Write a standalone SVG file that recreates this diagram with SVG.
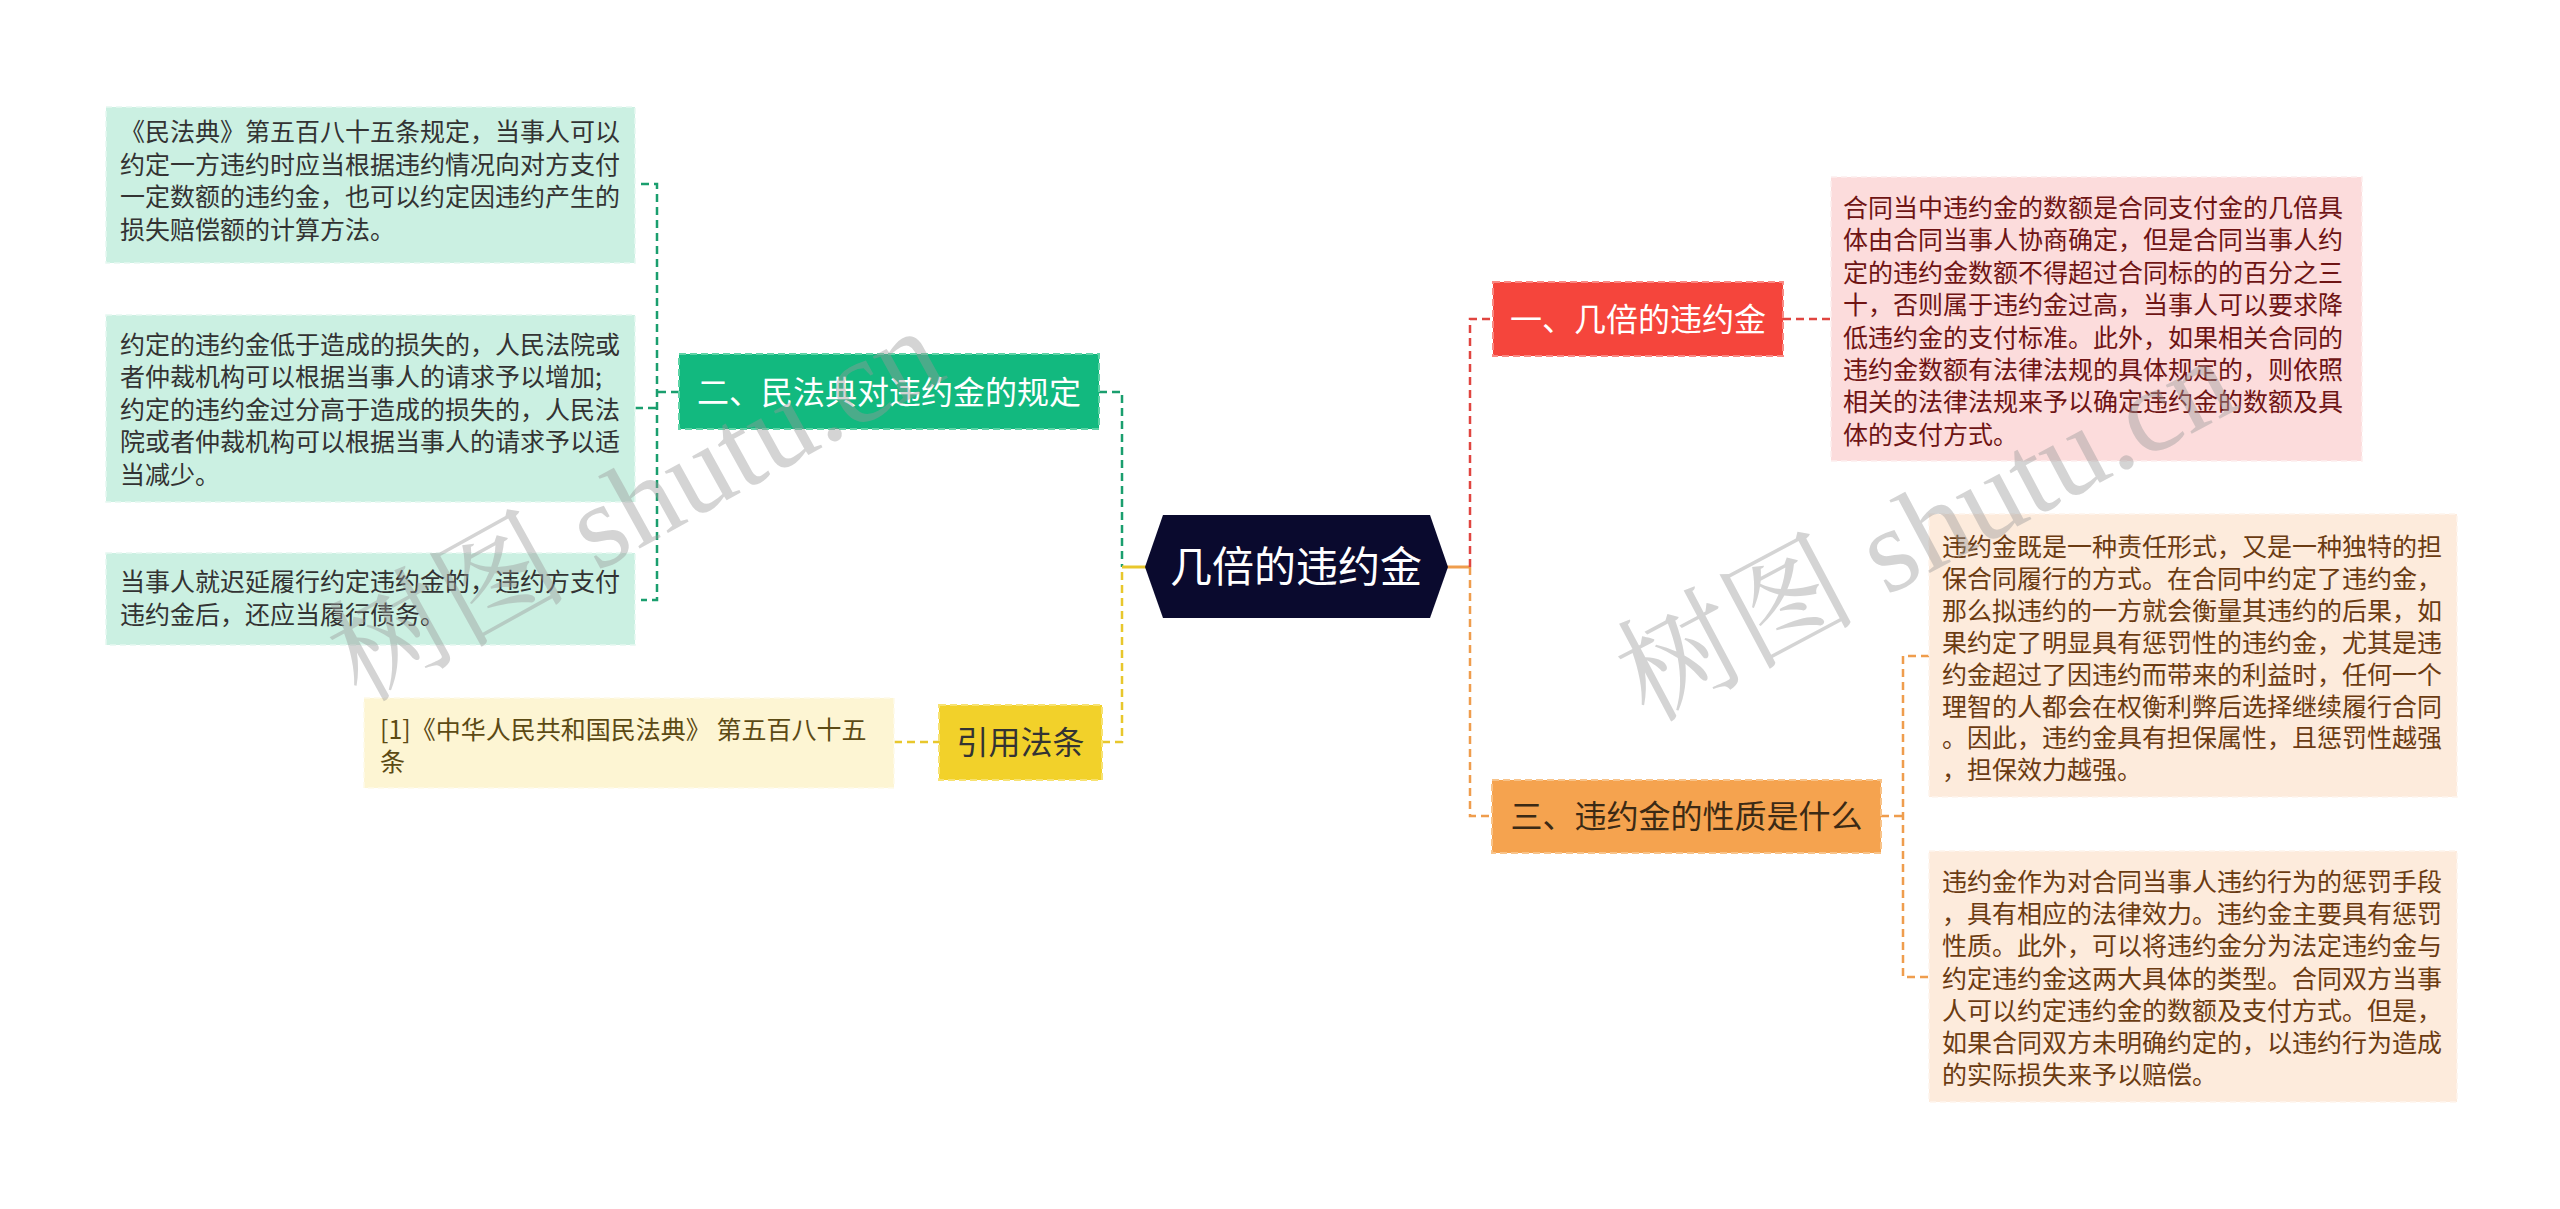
<svg xmlns="http://www.w3.org/2000/svg" width="2560" height="1209" viewBox="0 0 2560 1209">
<style>
text{font-family:"Noto Sans CJK SC","Liberation Sans",sans-serif}
.t{font-size:25px}
.b{font-size:32px}
.conn{fill:none;stroke-width:2.5;stroke-dasharray:8 5}
.g{stroke:#1a9e6e}.y{stroke:#e8c72c}.r{stroke:#e04540}.o{stroke:#ef9d4d}
.wm{font-family:"Liberation Serif","Noto Serif CJK SC","Noto Sans CJK SC",serif;font-size:120px;fill:#9a9a9a;opacity:0.42}
</style>
<rect width="2560" height="1209" fill="#ffffff"/>
<g id="connectors">
  <path class="conn g" d="M1099,392 H1122 V567"/>
  <path class="conn y" d="M1102,742 H1122 V567"/>
  <path d="M1122,567 H1146" stroke="#e8c72c" stroke-width="3" fill="none"/>
  <path d="M1447,567 H1470" stroke="#ef9d4d" stroke-width="3" fill="none"/>
  <path class="conn r" d="M1470,567 V319 H1493"/>
  <path class="conn o" d="M1470,567 V816 H1492"/>
  <path class="conn r" d="M1783,319 H1831"/>
  <path class="conn o" d="M1881,816 H1903"/>
  <path class="conn o" d="M1929,656 H1903 V977 H1929"/>
  <path class="conn g" d="M679,392 H657"/>
  <path class="conn g" d="M641,184 H657 V600 H641"/>
  <path class="conn g" d="M635,408 H657"/>
  <path class="conn y" d="M941,742 H894"/>
</g>
<g id="center">
  <polygon points="1145,567 1163,515 1430,515 1448,567 1430,618 1163,618" fill="#0a0a2e"/>
  <text x="1296" y="582" font-size="42" fill="#ffffff" text-anchor="middle">几倍的违约金</text>
</g>
<g id="n-green">
  <rect x="679" y="354" width="420" height="75" fill="#12b97f" stroke="#5fd3a6" stroke-width="2" stroke-dasharray="7 4"/>
  <text class="b" x="889" y="403.5" fill="#ffffff" text-anchor="middle">二、民法典对违约金的规定</text>
</g>
<g id="n-green-1">
  <rect x="106" y="107" width="529" height="156" fill="#cbf0e2" stroke="#e6f8f1" stroke-width="1.5" stroke-dasharray="6 4"/>
  <text class="t" fill="#333333"><tspan x="120" y="141">《民法典》第五百八十五条规定，当事人可以</tspan><tspan x="120" y="173.5">约定一方违约时应当根据违约情况向对方支付</tspan><tspan x="120" y="206">一定数额的违约金，也可以约定因违约产生的</tspan><tspan x="120" y="238.5">损失赔偿额的计算方法。</tspan></text>
</g>
<g id="n-green-2">
  <rect x="106" y="315" width="529" height="187" fill="#cbf0e2" stroke="#e6f8f1" stroke-width="1.5" stroke-dasharray="6 4"/>
  <text class="t" fill="#333333"><tspan x="120" y="353.5">约定的违约金低于造成的损失的，人民法院或</tspan><tspan x="120" y="386">者仲裁机构可以根据当事人的请求予以增加;</tspan><tspan x="120" y="418.5">约定的违约金过分高于造成的损失的，人民法</tspan><tspan x="120" y="451">院或者仲裁机构可以根据当事人的请求予以适</tspan><tspan x="120" y="483.5">当减少。</tspan></text>
</g>
<g id="n-green-3">
  <rect x="106" y="553" width="529" height="92" fill="#cbf0e2" stroke="#e6f8f1" stroke-width="1.5" stroke-dasharray="6 4"/>
  <text class="t" fill="#333333"><tspan x="120" y="591">当事人就迟延履行约定违约金的，违约方支付</tspan><tspan x="120" y="623.5">违约金后，还应当履行债务。</tspan></text>
</g>
<g id="n-yellow">
  <rect x="939" y="705" width="163" height="75" fill="#f2d12a" stroke="#f7e272" stroke-width="2" stroke-dasharray="7 4"/>
  <text class="b" x="1020.5" y="754" fill="#333333" text-anchor="middle">引用法条</text>
</g>
<g id="n-yellow-1">
  <rect x="364" y="698" width="530" height="90" fill="#fdf5d3" stroke="#fefae9" stroke-width="1.5" stroke-dasharray="6 4"/>
  <text class="t" fill="#5c4a14"><tspan x="380" y="739">[1]《中华人民共和国民法典》 第五百八十五</tspan><tspan x="380" y="771">条</tspan></text>
</g>
<g id="n-red">
  <rect x="1493" y="282" width="290" height="74" fill="#f5453c" stroke="#f98a84" stroke-width="2" stroke-dasharray="7 4"/>
  <text class="b" x="1638" y="330.5" fill="#ffffff" text-anchor="middle">一、几倍的违约金</text>
</g>
<g id="n-red-1">
  <rect x="1831" y="177" width="531" height="284" fill="#fcdcdc" stroke="#fdeeee" stroke-width="1.5" stroke-dasharray="6 4"/>
  <text class="t" fill="#6e1414"><tspan x="1843" y="217">合同当中违约金的数额是合同支付金的几倍具</tspan><tspan x="1843" y="249.4">体由合同当事人协商确定，但是合同当事人约</tspan><tspan x="1843" y="281.8">定的违约金数额不得超过合同标的的百分之三</tspan><tspan x="1843" y="314.2">十，否则属于违约金过高，当事人可以要求降</tspan><tspan x="1843" y="346.6">低违约金的支付标准。此外，如果相关合同的</tspan><tspan x="1843" y="379">违约金数额有法律法规的具体规定的，则依照</tspan><tspan x="1843" y="411.4">相关的法律法规来予以确定违约金的数额及具</tspan><tspan x="1843" y="443.8">体的支付方式。</tspan></text>
</g>
<g id="n-orange">
  <rect x="1492" y="780" width="389" height="73" fill="#f5a34f" stroke="#f8c389" stroke-width="2" stroke-dasharray="7 4"/>
  <text class="b" x="1686.5" y="828" fill="#3b2a15" text-anchor="middle">三、违约金的性质是什么</text>
</g>
<g id="n-orange-1">
  <rect x="1929" y="514" width="528" height="283" fill="#fdebdc" stroke="#fef5ed" stroke-width="1.5" stroke-dasharray="6 4"/>
  <text class="t" fill="#6b3b12"><tspan x="1942" y="556">违约金既是一种责任形式，又是一种独特的担</tspan><tspan x="1942" y="587.9">保合同履行的方式。在合同中约定了违约金，</tspan><tspan x="1942" y="619.8">那么拟违约的一方就会衡量其违约的后果，如</tspan><tspan x="1942" y="651.7">果约定了明显具有惩罚性的违约金，尤其是违</tspan><tspan x="1942" y="683.6">约金超过了因违约而带来的利益时，任何一个</tspan><tspan x="1942" y="715.5">理智的人都会在权衡利弊后选择继续履行合同</tspan><tspan x="1942" y="747.4">。因此，违约金具有担保属性，且惩罚性越强</tspan><tspan x="1942" y="779.3">，担保效力越强。</tspan></text>
</g>
<g id="n-orange-2">
  <rect x="1929" y="851" width="528" height="251" fill="#fdebdc" stroke="#fef5ed" stroke-width="1.5" stroke-dasharray="6 4"/>
  <text class="t" fill="#6b3b12"><tspan x="1942" y="891">违约金作为对合同当事人违约行为的惩罚手段</tspan><tspan x="1942" y="923.2">，具有相应的法律效力。违约金主要具有惩罚</tspan><tspan x="1942" y="955.4">性质。此外，可以将违约金分为法定违约金与</tspan><tspan x="1942" y="987.6">约定违约金这两大具体的类型。合同双方当事</tspan><tspan x="1942" y="1019.8">人可以约定违约金的数额及支付方式。但是，</tspan><tspan x="1942" y="1052">如果合同双方未明确约定的，以违约行为造成</tspan><tspan x="1942" y="1084.2">的实际损失来予以赔偿。</tspan></text>
</g>
<g id="watermarks">
  <text class="wm" x="655" y="540" text-anchor="middle" transform="rotate(-29 655 540)">树图 shutu.cn</text>
  <text class="wm" x="1945" y="565" text-anchor="middle" transform="rotate(-28 1945 565)">树图 shutu.cn</text>
</g>
</svg>
